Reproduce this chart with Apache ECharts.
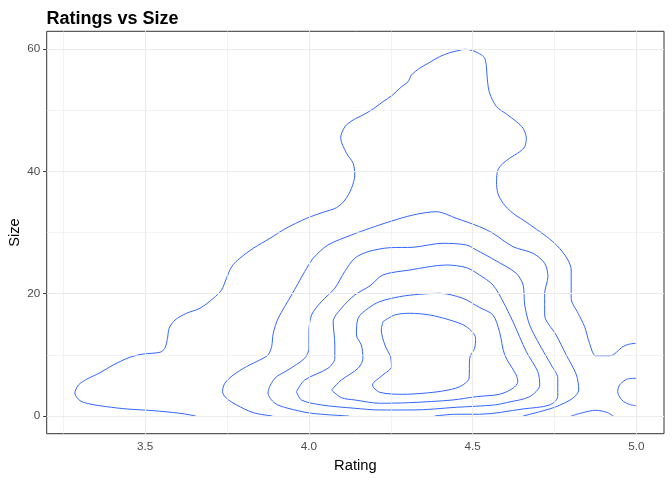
<!DOCTYPE html>
<html>
<head>
<meta charset="utf-8">
<title>Ratings vs Size</title>
<script src="https://cdn.jsdelivr.net/npm/echarts@6/dist/echarts.min.js"></script>
<style>
  html, body { margin: 0; padding: 0; background: #ffffff; }
  #chart { width: 672px; height: 480px; }
</style>
</head>
<body>
<div id="chart"></div>
<script>
// tick marks / grid lines
var ratingTicks = [3.5, 4.0, 4.5, 5.0];
var ratingMinor = [3.25, 3.75, 4.25, 4.75];
var sizeTicks = [0, 20, 40, 60];
var sizeMinor = [10, 30, 50];

// density contour lines, [rating, size] (outer level first)
var contourLevel1 = [
	[3.654,0.00],[3.606,0.44],[3.524,0.87],[3.443,1.15],[3.382,1.52],[3.331,1.96],[3.301,2.50],
	[3.285,3.71],[3.296,5.07],[3.321,6.00],[3.362,7.08],[3.402,8.34],[3.453,9.60],[3.494,10.14],
	[3.545,10.42],[3.560,11.08],[3.568,12.71],[3.573,14.35],[3.591,15.70],[3.626,16.80],[3.667,17.62],
	[3.708,19.25],[3.733,20.61],[3.748,22.53],[3.764,24.42],[3.789,25.80],[3.830,27.43],[3.881,29.07],
	[3.926,30.59],[3.993,32.34],[4.043,33.32],[4.084,34.07],[4.110,35.33],[4.130,37.25],[4.140,39.42],
	[4.135,41.34],[4.115,42.97],[4.097,45.48],[4.110,47.33],[4.135,48.42],[4.165,49.24],[4.196,50.22],
	[4.226,51.42],[4.252,52.35],[4.283,53.87],[4.303,54.69],[4.313,55.78],[4.338,56.88],[4.364,57.70],
	[4.399,58.78],[4.430,59.43],[4.455,59.76],[4.476,59.99],[4.501,59.76],[4.527,59.06],[4.537,58.52],
	[4.542,57.14],[4.545,54.97],[4.552,52.79],[4.573,50.60],[4.603,49.40],[4.634,48.14],[4.654,47.06],
	[4.664,45.43],[4.659,44.05],[4.644,43.24],[4.613,42.16],[4.593,41.34],[4.577,40.24],[4.573,38.33],
	[4.577,36.43],[4.593,34.80],[4.623,33.16],[4.654,32.06],[4.695,30.54],[4.735,28.96],[4.766,27.40],
	[4.791,25.52],[4.801,23.88],[4.801,21.15],[4.801,19.25],[4.822,16.80],[4.842,14.61],[4.857,11.89],
	[4.876,9.86],[4.920,9.86],[4.959,11.34],[4.977,11.73],[4.998,11.89]
];
var contourLevel1Right = [
	[4.999,6.17],[4.973,6.05],[4.959,5.61],[4.947,4.91],[4.943,3.98],[4.949,3.11],[4.961,2.37],
	[4.979,1.88],[4.999,1.68]
];
var contourLevel2Arch = [
	[4.801,0.00],[4.836,0.54],[4.876,0.93],[4.908,0.62],[4.930,0.00]
];
var contourLevel2 = [
	[3.888,0.00],[3.830,0.54],[3.779,1.80],[3.748,2.90],[3.736,3.98],[3.743,5.35],[3.769,6.71],
	[3.809,8.07],[3.850,9.16],[3.875,9.98],[3.886,11.34],[3.891,13.53],[3.906,15.98],[3.947,19.79],
	[3.987,23.61],[4.013,25.80],[4.058,27.97],[4.130,29.61],[4.186,30.71],[4.247,31.79],[4.318,32.88],
	[4.389,33.42],[4.450,32.34],[4.521,30.97],[4.562,29.89],[4.623,27.70],[4.684,26.62],[4.720,24.98],
	[4.730,22.79],[4.720,20.07],[4.720,16.52],[4.755,13.25],[4.786,9.98],[4.817,6.71],[4.824,4.25],
	[4.806,2.90],[4.755,1.52],[4.705,0.70],[4.654,0.00]
];
var contourLevel3 = [
	[4.122,0.00],[4.008,0.44],[3.936,1.26],[3.896,2.08],[3.875,3.76],[3.896,6.17],[3.936,7.53],
	[3.987,9.44],[4.000,11.08],[4.000,13.79],[4.008,16.52],[4.038,18.70],[4.079,20.89],[4.109,23.61],
	[4.140,25.80],[4.181,26.88],[4.247,27.53],[4.318,27.60],[4.409,28.25],[4.481,27.97],[4.511,27.16],
	[4.567,25.52],[4.633,23.34],[4.654,21.43],[4.659,18.16],[4.674,14.89],[4.705,11.61],[4.740,8.34],
	[4.760,6.17],[4.760,3.16],[4.735,1.80],[4.654,1.15],[4.521,0.28],[4.450,0.28],[4.384,0.00]
];
var contourLevel4 = [
	[3.962,3.98],[3.977,2.62],[4.038,1.80],[4.140,1.26],[4.216,0.98],[4.318,0.98],[4.450,1.42],
	[4.567,1.80],[4.603,2.18],[4.674,3.16],[4.705,5.07],[4.699,7.25],[4.664,10.52],[4.623,15.43],
	[4.593,18.70],[4.562,21.43],[4.521,23.07],[4.481,24.26],[4.420,24.70],[4.308,23.88],[4.226,23.07],
	[4.186,21.27],[4.140,19.79],[4.099,17.62],[4.074,15.43],[4.079,11.61],[4.079,9.44],[4.058,7.80],
	[3.987,5.89],[3.962,3.98]
];
var contourLevel5 = [
	[4.069,4.25],[4.099,2.99],[4.140,2.62],[4.216,2.08],[4.308,2.18],[4.440,2.62],[4.511,3.16],
	[4.582,3.55],[4.623,4.53],[4.638,5.61],[4.633,6.71],[4.598,9.98],[4.582,13.79],[4.562,16.52],
	[4.521,17.75],[4.470,19.25],[4.399,20.07],[4.338,19.91],[4.277,19.52],[4.216,18.70],[4.181,17.62],
	[4.150,15.98],[4.145,13.25],[4.160,11.61],[4.165,9.44],[4.150,7.80],[4.099,5.89],[4.069,4.25]
];
var contourLevel6 = [
	[4.226,15.43],[4.262,16.52],[4.308,16.80],[4.369,16.52],[4.430,15.70],[4.481,14.61],[4.509,12.71],
	[4.506,11.08],[4.491,9.44],[4.489,6.17],[4.460,4.79],[4.409,4.09],[4.348,3.71],[4.287,3.55],
	[4.216,3.88],[4.194,5.07],[4.226,6.71],[4.252,8.07],[4.249,9.70],[4.232,11.61],[4.221,14.07],
	[4.226,15.43]
];

var contourLines = [contourLevel1, contourLevel1Right, contourLevel2Arch, contourLevel2,
	contourLevel3, contourLevel4, contourLevel5, contourLevel6];

function myLoadContourChart(domId){
	var myCharts = echarts.init(document.getElementById(domId));

	// grid lines drawn as mark lines so they sit on the ticks, not on min
	var gridData = [];
	for(var i=0;i<ratingMinor.length;i++){ gridData.push({ xAxis: ratingMinor[i], lineStyle: { width: 0.6 } }); }
	for(var i=0;i<sizeMinor.length;i++){ gridData.push({ yAxis: sizeMinor[i], lineStyle: { width: 0.6 } }); }
	for(var i=0;i<ratingTicks.length;i++){ gridData.push({ xAxis: ratingTicks[i] }); }
	for(var i=0;i<sizeTicks.length;i++){ gridData.push({ yAxis: sizeTicks[i] }); }

	var seriesArr = [{
		type: 'line',
		data: [],
		z: 1,
		silent: true,
		markLine: {
			silent: true,
			symbol: ['none', 'none'],
			label: { show: false },
			lineStyle: { color: '#EBEBEB', type: 'solid', width: 1.1 },
			emphasis: { disabled: true },
			data: gridData
		}
	}];
	for(var i=0;i<contourLines.length;i++){
		seriesArr.push({
			type: 'line',
			data: contourLines[i],
			z: 2,
			showSymbol: false,
			smooth: 0.3,
			lineStyle: { color: '#3366FF', width: 1 },
			emphasis: { disabled: true }
		});
	}

	var tickFont = { color: '#4D4D4D', fontSize: 11.7, fontFamily: 'Liberation Sans, Arial, sans-serif' };
	var option = {
		animation: false,
		title: {
			text: 'Ratings vs Size',
			left: 41.5,
			top: 5,
			textStyle: { fontSize: 18, fontWeight: 'bold', color: '#000000', fontFamily: 'Liberation Sans, Arial, sans-serif' }
		},
		grid: {
			left: 46.7, right: 8, top: 31.3, bottom: 46.3,
			outerBoundsMode: 'none',
			containLabel: false,
			show: true, borderColor: '#333333', borderWidth: 1, backgroundColor: '#FFFFFF'
		},
		xAxis: {
			type: 'value',
			min: 3.199, max: 5.0845,
			name: 'Rating',
			nameLocation: 'middle',
			nameGap: 25,
			nameMoveOverlap: false,
			nameTextStyle: { fontSize: 14.7, color: '#000000', fontFamily: 'Liberation Sans, Arial, sans-serif' },
			axisLine: { show: false },
			axisTick: { show: true, length: 3.5, customValues: ratingTicks, lineStyle: { color: '#333333' } },
			axisLabel: Object.assign({ customValues: ratingTicks, margin: 7,
				formatter: function(v){ return v.toFixed(1); } }, tickFont),
			splitLine: { show: false }
		},
		yAxis: {
			type: 'value',
			min: -2.9, max: 62.93,
			name: 'Size',
			nameLocation: 'middle',
			nameGap: 24,
			nameMoveOverlap: false,
			nameTextStyle: { fontSize: 14.7, color: '#000000', fontFamily: 'Liberation Sans, Arial, sans-serif' },
			axisLine: { show: false },
			axisTick: { show: true, length: 3.5, customValues: sizeTicks, lineStyle: { color: '#333333' } },
			axisLabel: Object.assign({ customValues: sizeTicks, margin: 6.5 }, tickFont),
			splitLine: { show: false }
		},
		series: seriesArr
	};
	myCharts.setOption(option);
}

myLoadContourChart('chart');
</script>
</body>
</html>
